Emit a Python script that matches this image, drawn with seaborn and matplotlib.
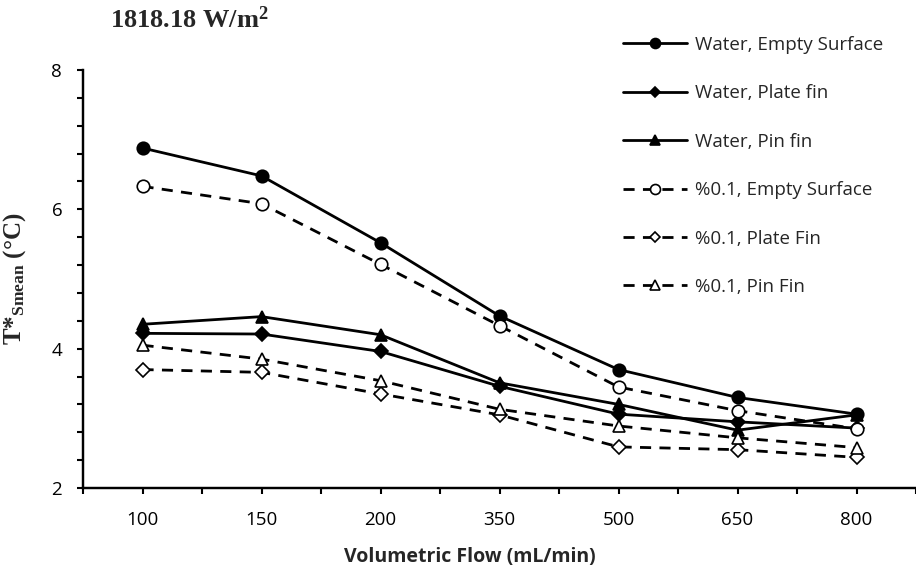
import numpy as np
import pandas as pd
import matplotlib
matplotlib.use("Agg")
import matplotlib.pyplot as plt
import seaborn as sns
from matplotlib.ticker import MultipleLocator, FixedLocator

# ---- data ----
flows = ["100", "150", "200", "350", "500", "650", "800"]
water_empty = [6.88, 6.48, 5.52, 4.47, 3.70, 3.30, 3.06]
water_plate = [4.22, 4.21, 3.96, 3.46, 3.06, 2.95, 2.86]
water_pin = [4.35, 4.46, 4.20, 3.51, 3.20, 2.83, 3.05]
nf_empty = [6.33, 6.08, 5.21, 4.33, 3.45, 3.11, 2.85]
nf_plate = [3.70, 3.66, 3.35, 3.05, 2.59, 2.55, 2.44]
nf_pin = [4.05, 3.85, 3.54, 3.13, 2.89, 2.72, 2.58]

labels = ["Water, Empty Surface", "Water, Plate fin", "Water, Pin fin",
          "%0.1, Empty Surface", "%0.1, Plate Fin", "%0.1, Pin Fin"]
series = [water_empty, water_plate, water_pin, nf_empty, nf_plate, nf_pin]
markers = ["o", "D", "^", "o", "D", "^"]
msizes = [9, 7, 9, 9, 7, 9]
filled = [True, True, True, False, False, False]

df = pd.DataFrame({"flow": flows})
for lab, vals in zip(labels, series):
    df[lab] = vals

sns.set_theme(style="white")
plt.rcParams["font.family"] = ["Open Sans", "DejaVu Sans"]
plt.rcParams["mathtext.fontset"] = "custom"
plt.rcParams["mathtext.bf"] = "Liberation Serif:bold"
plt.rcParams["mathtext.rm"] = "Liberation Serif:bold"
plt.rcParams["mathtext.default"] = "bf"

fig = plt.figure(figsize=(9.16, 5.73), dpi=100)
ax = fig.add_axes([83 / 916, 1 - 488 / 573, 1 - 83 / 916, (488 - 70) / 573])

for lab, mk, ms, fl in zip(labels, markers, msizes, filled):
    sns.lineplot(data=df, x="flow", y=lab, ax=ax, color="black", marker=mk,
                 markersize=ms, markerfacecolor="black" if fl else "white",
                 markeredgecolor="black", markeredgewidth=1.2, linewidth=2.0,
                 linestyle="-" if fl else "--", label=lab, legend=False, sort=False)
    line = ax.lines[-1]
    if not fl:
        line.set_dashes([4, 3])

ax.set_xlim(-0.5, 6.5)
ax.set_ylim(2, 8)
ax.yaxis.set_major_locator(MultipleLocator(2))
ax.yaxis.set_minor_locator(MultipleLocator(0.4))
ax.xaxis.set_minor_locator(FixedLocator(np.arange(-0.5, 7.0, 1.0)))

for side in ["top", "right"]:
    ax.spines[side].set_visible(False)
for side in ["left", "bottom"]:
    ax.spines[side].set_linewidth(1.75)
    ax.spines[side].set_color("black")

ax.tick_params(axis="y", which="both", direction="out", length=4, width=1.5,
               left=True, labelsize=13.5, pad=11, colors="black")
ax.tick_params(axis="x", which="both", direction="out", length=4.5, width=1.5,
               bottom=True, labelsize=13.5, pad=12, colors="black")

ax.set_xlabel("Volumetric Flow (mL/min)", fontsize=14, fontweight="bold")
ax.xaxis.set_label_coords((470 - 83) / (916 - 83), -0.14)
ax.set_ylabel("T*$_{Smean}$ (°C)", fontsize=18, fontweight="bold",
              family="Liberation Serif")
ax.yaxis.set_label_coords(-0.066, 0.50)

fig.text(110 / 916, 1 - 28 / 573, "1818.18 W/m$^{2}$", fontsize=19, fontweight="bold",
         family="Liberation Serif", ha="left", va="baseline")

handles, labs = ax.get_legend_handles_labels()
leg = fig.legend(handles, labs, loc="upper left", bbox_to_anchor=(623 / 916, 1 - 36 / 573),
                 frameon=False, fontsize=13.5, handlelength=3.4, handletextpad=0.45,
                 labelspacing=1.62, borderpad=0, borderaxespad=0, markerscale=0.8)

fig.savefig("out.png", dpi=100)
